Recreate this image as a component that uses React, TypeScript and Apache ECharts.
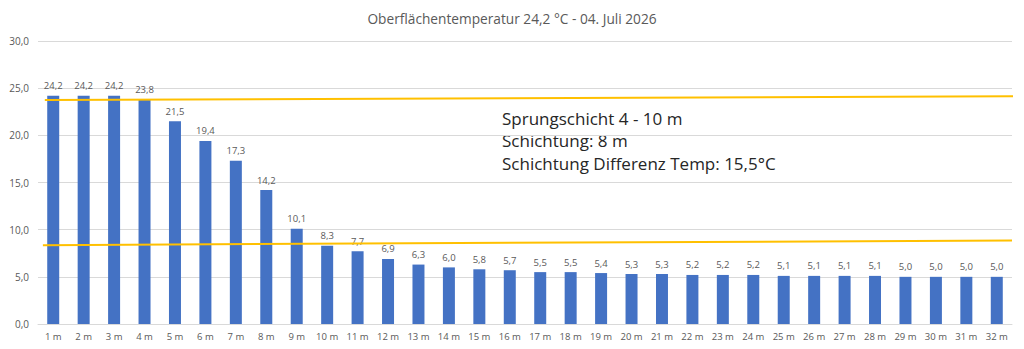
import React, { useEffect, useRef } from "react";
import * as echarts from "echarts";

const categories = [
  "1 m","2 m","3 m","4 m","5 m","6 m","7 m","8 m","9 m","10 m","11 m","12 m","13 m","14 m","15 m","16 m",
  "17 m","18 m","19 m","20 m","21 m","22 m","23 m","24 m","25 m","26 m","27 m","28 m","29 m","30 m","31 m","32 m",
];
const temperatures = [
  24.2, 24.2, 24.2, 23.8, 21.5, 19.4, 17.3, 14.2, 10.1, 8.3, 7.7, 6.9, 6.3, 6.0, 5.8, 5.7,
  5.5, 5.5, 5.4, 5.3, 5.3, 5.2, 5.2, 5.2, 5.1, 5.1, 5.1, 5.1, 5.0, 5.0, 5.0, 5.0,
];
const upperLine = [23.75, 24.15];
const lowerLine = [8.36, 8.86];
const titleText = "Oberflächentemperatur 24,2 °C - 04. Juli 2026";
const infoLines = [
  "Sprungschicht 4 - 10 m",
  "Schichtung: 8 m",
  "Schichtung Differenz Temp: 15,5°C",
];

const fmt = (v: number) => v.toFixed(1).replace(".", ",");
const FONT = "'Open Sans', 'Liberation Sans', sans-serif";

export default function App() {
  const ref = useRef<HTMLDivElement>(null);
  useEffect(() => {
    if (!ref.current) return;
    const chart = echarts.init(ref.current, undefined, { renderer: "svg" });
    chart.setOption({
      animation: false,
      backgroundColor: "#ffffff",
      textStyle: { fontFamily: FONT },
      title: {
        text: titleText,
        left: "center",
        top: 6,
        textStyle: { fontSize: 13.7, fontWeight: "normal", color: "#595959", fontFamily: FONT },
      },
      grid: { left: 38, right: 12, top: 41, bottom: 25, containLabel: false },
      xAxis: [
        {
          type: "category",
          data: categories,
          axisLine: { show: true, lineStyle: { color: "#d9d9d9" } },
          axisTick: { show: false },
          axisLabel: { color: "#595959", fontSize: 9.5, margin: 7, interval: 0, fontFamily: FONT },
        },
        {
          type: "value",
          min: 0,
          max: 1,
          show: false,
        },
      ],
      yAxis: {
        type: "value",
        min: 0,
        max: 30,
        interval: 5,
        axisLine: { show: false },
        axisTick: { show: false },
        axisLabel: { color: "#595959", fontSize: 10, margin: 9, formatter: (v: number) => fmt(v), fontFamily: FONT },
        splitLine: { lineStyle: { color: "#d9d9d9", width: 1 } },
      },
      series: [
        {
          type: "bar",
          data: temperatures,
          barWidth: 12,
          itemStyle: { color: "#4472c4" },
          label: {
            show: true,
            position: "top",
            distance: 5,
            color: "#595959",
            fontSize: 9.5,
            fontFamily: FONT,
            formatter: (p: any) => fmt(p.value),
          },
        },
        {
          type: "line",
          xAxisIndex: 1,
          data: [[0.007, upperLine[0]], [1.004, upperLine[1]]],
          symbol: "none",
          lineStyle: { color: "#ffc000", width: 2 },
          z: 5,
        },
        {
          type: "line",
          xAxisIndex: 1,
          data: [[0.005, lowerLine[0]], [1.0, lowerLine[1]]],
          symbol: "none",
          lineStyle: { color: "#ffc000", width: 2 },
          z: 5,
        },
      ],
      graphic: infoLines.map((t, i) => ({
        type: "text",
        left: 502,
        top: 109.5 + i * 22.5,
        style: { text: t, fontSize: 17, fill: "#262626", fontFamily: FONT },
      })),
    });
    return () => chart.dispose();
  }, []);
  return <div ref={ref} style={{ width: 1024, height: 349, margin: -8 }} />;
}
